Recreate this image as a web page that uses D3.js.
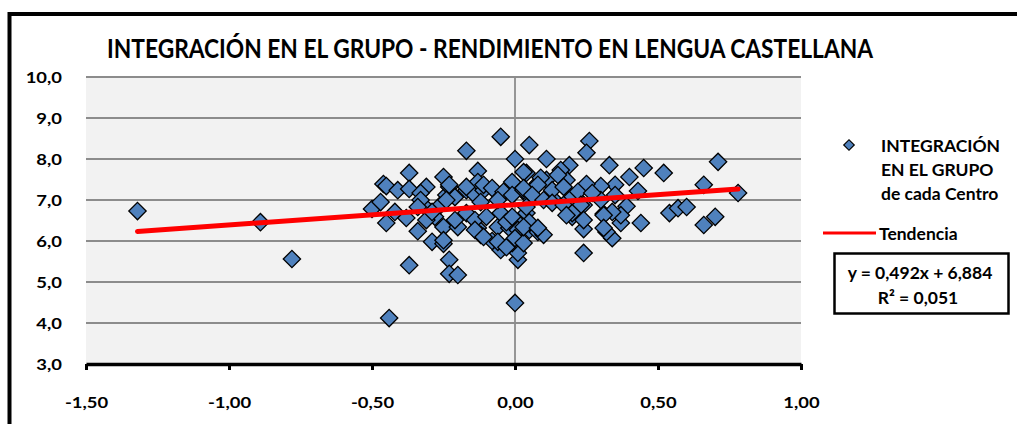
<!DOCTYPE html>
<html><head><meta charset="utf-8">
<script src="https://cdn.jsdelivr.net/npm/d3@7"></script>
<style>
html,body{margin:0;padding:0;background:#fff;}
svg text{font-family:Lato,"Open Sans",sans-serif;font-weight:bold;fill:#000;}
</style></head>
<body><svg id="c" width="1017" height="424"></svg>
<script>
const titleText = "INTEGRACIÓN EN EL GRUPO - RENDIMIENTO EN LENGUA CASTELLANA";
const legendSeries = ["INTEGRACIÓN", "EN EL GRUPO", "de cada Centro"];
const legendTrend = "Tendencia";
const trendSlope = 0.492;
const trendIntercept = 6.884;
const trendR2 = 0.051;
const xTicks = [-1.5, -1.0, -0.5, 0, 0.5, 1.0];
const yTicks = [3, 4, 5, 6, 7, 8, 9, 10];
const xValues = [
-1.32,-0.89,-0.78,-0.44,-0.37,-0.23,-0.23,-0.20,0.00,0.01,-0.05,-0.01,0.01,-0.29,-0.25,
-0.05,-0.17,0.05,0.00,0.11,-0.37,-0.46,-0.45,-0.41,-0.37,-0.31,-0.33,-0.25,-0.13,-0.50,
-0.47,-0.45,-0.42,-0.38,-0.34,-0.31,-0.33,-0.28,-0.26,-0.25,-0.25,-0.31,-0.20,-0.13,-0.12,
-0.08,-0.06,-0.02,0.00,-0.01,-0.24,-0.23,-0.21,-0.17,-0.14,-0.13,-0.11,-0.05,-0.02,0.01,
0.04,0.08,0.05,0.11,0.16,0.19,0.18,0.13,0.20,0.05,0.08,0.10,-0.05,-0.29,-0.34,
-0.17,0.26,0.25,0.33,0.45,0.52,0.71,0.66,0.78,0.54,0.57,0.60,0.70,0.66,0.44,
0.24,0.34,0.32,0.24,0.31,0.37,0.39,0.43,0.40,0.35,0.30,0.25,0.20,0.24,0.35,
0.37,0.30,0.34,0.31,0.03,-0.23,-0.17,-0.11,-0.08,-0.04,-0.01,-0.01,0.03,-0.06,-0.24,
-0.12,-0.21,-0.14,-0.10,-0.14,-0.03,-0.01,0.01,0.04,-0.11,-0.06,-0.03,0.00,0.03,0.16,
0.09,0.15,0.03,0.08,0.13,0.17,0.22,0.06,0.10,0.27,0.19,0.04,0.13,0.17,0.23,
0.20,0.18,0.24,0.05,0.03,0.08,0.31
];
const yValues = [
6.73,6.46,5.56,4.12,5.41,5.54,5.20,5.17,4.49,5.54,5.78,5.90,5.71,5.98,5.93,
8.54,8.20,8.34,8.00,8.00,7.66,7.39,7.34,7.24,7.27,7.32,7.17,7.56,7.71,6.78,
6.95,6.44,6.71,6.56,6.24,6.80,7.00,6.59,6.88,6.34,6.02,6.51,6.34,6.32,6.15,
6.00,6.34,6.32,6.51,5.95,7.12,7.32,7.07,7.24,7.12,7.44,7.24,7.12,7.24,7.29,
7.66,7.41,7.07,7.49,7.66,7.85,7.49,7.05,6.59,6.27,6.22,6.15,6.68,6.71,6.83,
6.68,8.44,8.15,7.85,7.78,7.66,7.93,7.37,7.17,6.68,6.80,6.83,6.59,6.39,6.44,
5.71,6.07,6.22,6.29,6.66,6.44,6.85,7.22,7.56,7.37,7.34,7.39,7.07,6.88,7.12,
6.63,7.00,6.71,6.63,7.68,7.37,7.32,7.37,7.29,7.20,7.44,7.12,7.24,7.00,7.00,
6.95,6.51,6.51,6.59,6.27,6.46,6.59,6.27,6.68,6.10,5.98,5.85,6.07,5.95,7.73,
7.54,7.61,7.29,7.37,7.24,7.32,7.20,7.12,7.00,7.17,7.00,6.83,6.93,6.88,6.88,
6.68,6.63,6.51,6.46,6.34,6.32,6.32
];
const points = xValues.map((x, i) => ({x, y: yValues[i]}));

const svg = d3.select("#c");
const L = 86, R = 801, T = 77, B = 364;
const x = d3.scaleLinear().domain([-1.5, 1.0]).range([L, R]);
const y = d3.scaleLinear().domain([3, 10]).range([B, T]);
const comma = f => v => d3.format(f)(v).replace(".", ",").replace("−", "-");

function stretch(sel, f) {
  sel.each(function(){ const w = this.getComputedTextLength(); d3.select(this).attr("textLength", w*f).attr("lengthAdjust","spacingAndGlyphs"); });
}

// outer frame
svg.append("rect").attr("x", 9.5).attr("y", 14).attr("width", 1040).attr("height", 450)
  .attr("fill", "none").attr("stroke", "#000").attr("stroke-width", 4);

// plot background
svg.append("rect").attr("x", L).attr("y", T).attr("width", R - L).attr("height", B - T).attr("fill", "#f2f2f2");

// gridlines
svg.append("g").selectAll("line").data(yTicks.filter(d => d > 3)).join("line")
  .attr("x1", L).attr("x2", R).attr("y1", d => y(d)).attr("y2", d => y(d))
  .attr("stroke", "#8c8c8c").attr("stroke-width", 1.8);
// vertical axis at x=0
svg.append("line").attr("x1", x(0)).attr("x2", x(0)).attr("y1", T).attr("y2", B)
  .attr("stroke", "#8c8c8c").attr("stroke-width", 1.8);

// y axis labels
const yAx = svg.append("g").attr("transform", `translate(${L},0)`)
  .call(d3.axisLeft(y).tickValues(yTicks).tickFormat(comma(".1f")).tickSize(0).tickPadding(24));
yAx.select(".domain").remove();
yAx.selectAll("text").style("font-size", "16px").attr("font-family", null);
stretch(yAx.selectAll("text"), 1.15);

// x axis
const xAx = svg.append("g").attr("transform", `translate(0,${B})`)
  .call(d3.axisBottom(x).tickValues(xTicks).tickFormat(comma(".2f")).tickSizeInner(6).tickSizeOuter(0).tickPadding(27));
xAx.select(".domain").attr("stroke", "#000").attr("stroke-width", 3.5);
xAx.selectAll(".tick line").attr("stroke", "#000").attr("stroke-width", 3);
xAx.selectAll("text").style("font-size", "16px").attr("font-family", null);
stretch(xAx.selectAll("text"), 1.15);

// points
const diamond = d3.symbol().type(d3.symbolSquare).size(150);
svg.append("g").selectAll("path").data(points).join("path")
  .attr("d", diamond)
  .attr("transform", d => `translate(${x(d.x)},${y(d.y)}) rotate(45)`)
  .attr("fill", "#4f81bd").attr("stroke", "#000").attr("stroke-width", 1.3);

// trend line
const xmin = d3.min(xValues), xmax = d3.max(xValues);
svg.append("line")
  .attr("x1", x(xmin)).attr("y1", y(trendSlope * xmin + trendIntercept))
  .attr("x2", x(xmax)).attr("y2", y(trendSlope * xmax + trendIntercept))
  .attr("stroke", "#ff0000").attr("stroke-width", 5).attr("stroke-linecap", "round");

// title
svg.append("text").attr("x", 107).attr("y", 58).text(titleText)
  .style("font-size", "26px").attr("textLength", 766).attr("lengthAdjust", "spacingAndGlyphs");

// legend
svg.append("path").attr("d", d3.symbol().type(d3.symbolSquare).size(55))
  .attr("transform", "translate(849,145) rotate(45)")
  .attr("fill", "#4f81bd").attr("stroke", "#000").attr("stroke-width", 1.2);
const lg = svg.append("g");
lg.selectAll("text").data(legendSeries).join("text")
  .attr("x", 881).attr("y", (d, i) => 152 + i * 24).text(d => d).style("font-size", "17.5px");
svg.append("line").attr("x1", 823).attr("x2", 876).attr("y1", 233).attr("y2", 233)
  .attr("stroke", "#ff0000").attr("stroke-width", 3);
svg.append("text").attr("x", 879).attr("y", 240).text(legendTrend).style("font-size", "17.5px");

svg.append("rect").attr("x", 834.5).attr("y", 253.5).attr("width", 174).attr("height", 60)
  .attr("fill", "#fff").attr("stroke", "#000").attr("stroke-width", 2.5);
const fmt3 = v => d3.format(".3f")(v).replace(".", ",");
const eq = svg.append("g");
eq.append("text").attr("x", 920).attr("y", 279).attr("text-anchor", "middle")
  .text(`y = ${fmt3(trendSlope)}x + ${fmt3(trendIntercept)}`).style("font-size", "17.5px");
eq.append("text").attr("x", 918).attr("y", 304).attr("text-anchor", "middle")
  .text(`R² = ${fmt3(trendR2)}`).style("font-size", "17.5px");
</script></body></html>
